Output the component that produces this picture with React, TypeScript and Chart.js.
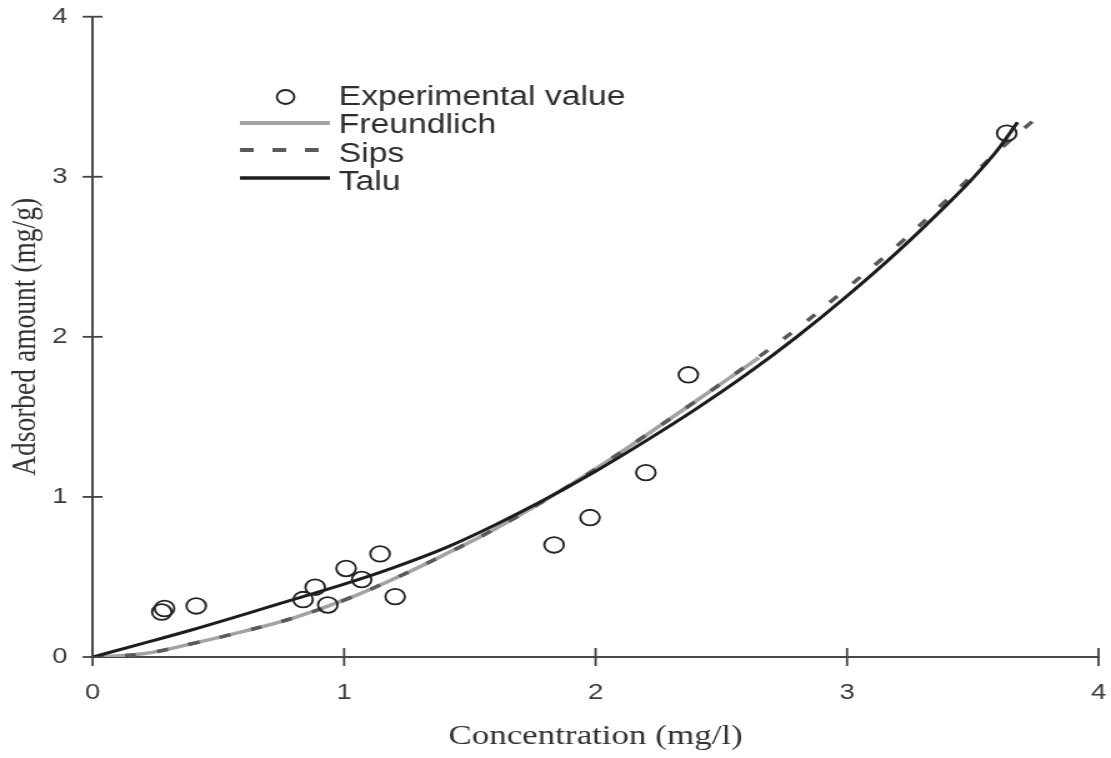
import React, { useEffect, useRef } from "react";
import { Chart, registerables } from "chart.js";

Chart.register(...registerables);

// ---- data ----
const expX = [0.275, 0.286, 0.412, 0.837, 0.885, 0.935, 1.008, 1.07, 1.143, 1.203, 1.835, 1.978, 2.2, 2.369, 3.635];
const expY = [0.281, 0.303, 0.319, 0.359, 0.436, 0.325, 0.553, 0.484, 0.644, 0.377, 0.7, 0.871, 1.152, 1.763, 3.272];

const freundlichX = [0, 0.2, 0.4, 0.6, 0.8, 1.0, 1.2, 1.4, 1.6, 1.8, 2.0, 2.2, 2.4, 2.65];
const freundlichY = [0, 0.02, 0.085, 0.16, 0.245, 0.355, 0.49, 0.64, 0.8, 0.98, 1.175, 1.385, 1.6, 1.87];

const sipsX = [0, 0.2, 0.4, 0.6, 0.8, 1.0, 1.2, 1.4, 1.6, 1.8, 2.0, 2.2, 2.4, 2.6, 2.8, 3.0, 3.2, 3.4, 3.6, 3.77];
const sipsY = [0, 0.02, 0.085, 0.16, 0.245, 0.355, 0.49, 0.64, 0.8, 0.98, 1.175, 1.385, 1.6, 1.82, 2.05, 2.305, 2.57, 2.86, 3.16, 3.39];

const taluX = [0, 0.2, 0.4, 0.6, 0.8, 1.0, 1.2, 1.4, 1.6, 1.8, 2.0, 2.2, 2.4, 2.6, 2.8, 3.0, 3.2, 3.4, 3.5, 3.6, 3.678];
const taluY = [0, 0.085, 0.172, 0.265, 0.36, 0.455, 0.56, 0.68, 0.825, 0.985, 1.16, 1.35, 1.55, 1.765, 2.0, 2.255, 2.53, 2.83, 2.99, 3.17, 3.34];

const xTicks = [0, 1, 2, 3, 4];
const yTicks = [0, 1, 2, 3, 4];

const xTitle = "Concentration (mg/l)";
const yTitle = "Adsorbed amount (mg/g)";
const legendLabels = ["Experimental value", "Freundlich", "Sips", "Talu"];

// ---- drawing setup ----
const DISPLAY_W = 1111;
const DISPLAY_H = 758;
const CANVAS_W = 889; // canvas is stretched horizontally to DISPLAY_W, like the reference
const SANS = "'Liberation Sans', Arial, Helvetica, sans-serif";
const SERIF = "'Liberation Serif', 'Times New Roman', Times, serif";

const toPoints = (xs: number[], ys: number[]) => xs.map((x, i) => ({ x, y: ys[i] }));

const crossTicks = {
  id: "crossTicks",
  afterDraw(chart: any) {
    const { ctx, scales } = chart;
    const x = scales.x;
    const y = scales.y;
    ctx.save();
    ctx.strokeStyle = "#444444";
    ctx.lineWidth = 1.8;
    for (const v of xTicks) {
      const px = x.getPixelForValue(v);
      ctx.beginPath();
      ctx.moveTo(px, y.bottom - 9);
      ctx.lineTo(px, y.bottom + 9);
      ctx.stroke();
    }
    for (const v of yTicks) {
      const py = y.getPixelForValue(v);
      ctx.beginPath();
      ctx.moveTo(x.left - 8, py);
      ctx.lineTo(x.left + 8, py);
      ctx.stroke();
    }
    ctx.restore();
  },
};

const innerLegend = {
  id: "innerLegend",
  afterDraw(chart: any) {
    const { ctx } = chart;
    const ds = chart.data.datasets;
    const byLabel = (l: string) => ds.find((d: any) => d.label === l);
    const x0 = 192;
    const x1 = 264;
    const tx = 271;
    const baselines = [105, 133, 162, 190];
    const mids = [97, 123, 150, 178];
    ctx.save();
    legendLabels.forEach((label, i) => {
      const d = byLabel(label);
      const my = mids[i];
      if (d.showLine === false) {
        ctx.beginPath();
        ctx.lineWidth = d.borderWidth;
        ctx.strokeStyle = d.borderColor;
        ctx.arc(228.5, my, 7, 0, Math.PI * 2);
        ctx.stroke();
      } else {
        ctx.beginPath();
        ctx.lineWidth = d.borderWidth + 0.5;
        ctx.strokeStyle = d.borderColor;
        ctx.setLineDash(d.borderDash ? [11, 15] : []);
        ctx.moveTo(x0, my);
        ctx.lineTo(d.borderDash ? 258 : x1, my);
        ctx.stroke();
        ctx.setLineDash([]);
      }
      ctx.fillStyle = "#2e2e2e";
      ctx.font = `27px ${SANS}`;
      ctx.textAlign = "left";
      ctx.textBaseline = "alphabetic";
      ctx.fillText(label, tx, baselines[i]);
    });
    ctx.restore();
  },
};

export default function App() {
  const canvasRef = useRef<HTMLCanvasElement | null>(null);

  useEffect(() => {
    document.body.style.margin = "0";
    const canvas = canvasRef.current;
    if (!canvas) return;
    const chart = new Chart(canvas, {
      type: "line",
      data: {
        datasets: [
          {
            label: legendLabels[0],
            data: toPoints(expX, expY),
            showLine: false,
            pointStyle: "circle",
            pointRadius: 7.8,
            pointHoverRadius: 7.8,
            pointBorderWidth: 1.8,
            borderWidth: 1.8,
            borderColor: "#222222",
            pointBorderColor: "#222222",
            backgroundColor: "rgba(0,0,0,0)",
            pointBackgroundColor: "rgba(0,0,0,0)",
          },
          {
            label: legendLabels[3],
            data: toPoints(taluX, taluY),
            borderColor: "#1c1c1c",
            borderWidth: 3,
            pointRadius: 0,
            fill: false,
            cubicInterpolationMode: "monotone",
          },
          {
            label: legendLabels[2],
            data: toPoints(sipsX, sipsY),
            borderColor: "#5a5a5a",
            borderWidth: 3.5,
            borderDash: [9, 17],
            pointRadius: 0,
            fill: false,
            tension: 0.4,
          },
          {
            label: legendLabels[1],
            data: toPoints(freundlichX, freundlichY),
            borderColor: "#a3a3a3",
            borderWidth: 3.5,
            pointRadius: 0,
            fill: false,
            tension: 0.4,
          },
        ],
      },
      options: {
        animation: false,
        responsive: false,
        devicePixelRatio: 1,
        events: [],
        layout: { padding: { top: 16.7, right: 10, left: 0, bottom: 0 } },
        plugins: {
          legend: { display: false },
          tooltip: { enabled: false },
          title: { display: false },
        },
        scales: {
          x: {
            type: "linear",
            min: 0,
            max: 4,
            afterFit: (s: any) => {
              s.height = 758 - 657;
            },
            afterBuildTicks: (s: any) => {
              s.ticks = xTicks.map((v) => ({ value: v }));
            },
            grid: { display: false, drawTicks: true, tickLength: 23 },
            border: { display: true, color: "#484848", width: 2 },
            ticks: {
              autoSkip: false,
              maxRotation: 0,
              padding: 0,
              color: "#3a3a3a",
              font: { family: SANS, size: 22 },
              callback: (v: any) => String(v),
            },
            title: {
              display: true,
              text: xTitle,
              color: "#333333",
              font: { family: SERIF, size: 28 },
              padding: { top: 0, bottom: 5 },
            },
          },
          y: {
            type: "linear",
            min: 0,
            max: 4,
            afterFit: (s: any) => {
              s.width = 74.1;
            },
            afterBuildTicks: (s: any) => {
              s.ticks = yTicks.map((v) => ({ value: v }));
            },
            grid: { display: false, drawTicks: true, tickLength: 20 },
            border: { display: true, color: "#484848", width: 2 },
            ticks: {
              padding: 0,
              color: "#3a3a3a",
              font: { family: SANS, size: 22 },
              callback: (v: any) => String(v),
            },
            title: {
              display: true,
              text: yTitle,
              color: "#333333",
              font: { family: SERIF, size: 27.5 },
              padding: { top: 4, bottom: 0 },
            },
          },
        },
      },
      plugins: [crossTicks, innerLegend],
    } as any);
    return () => chart.destroy();
  }, []);

  return (
    <div style={{ position: "absolute", left: 0, top: 0, width: DISPLAY_W, height: DISPLAY_H, background: "#ffffff" }}>
      <canvas
        ref={canvasRef}
        width={CANVAS_W}
        height={DISPLAY_H}
        style={{ width: `${DISPLAY_W}px`, height: `${DISPLAY_H}px`, display: "block" }}
      />
    </div>
  );
}
